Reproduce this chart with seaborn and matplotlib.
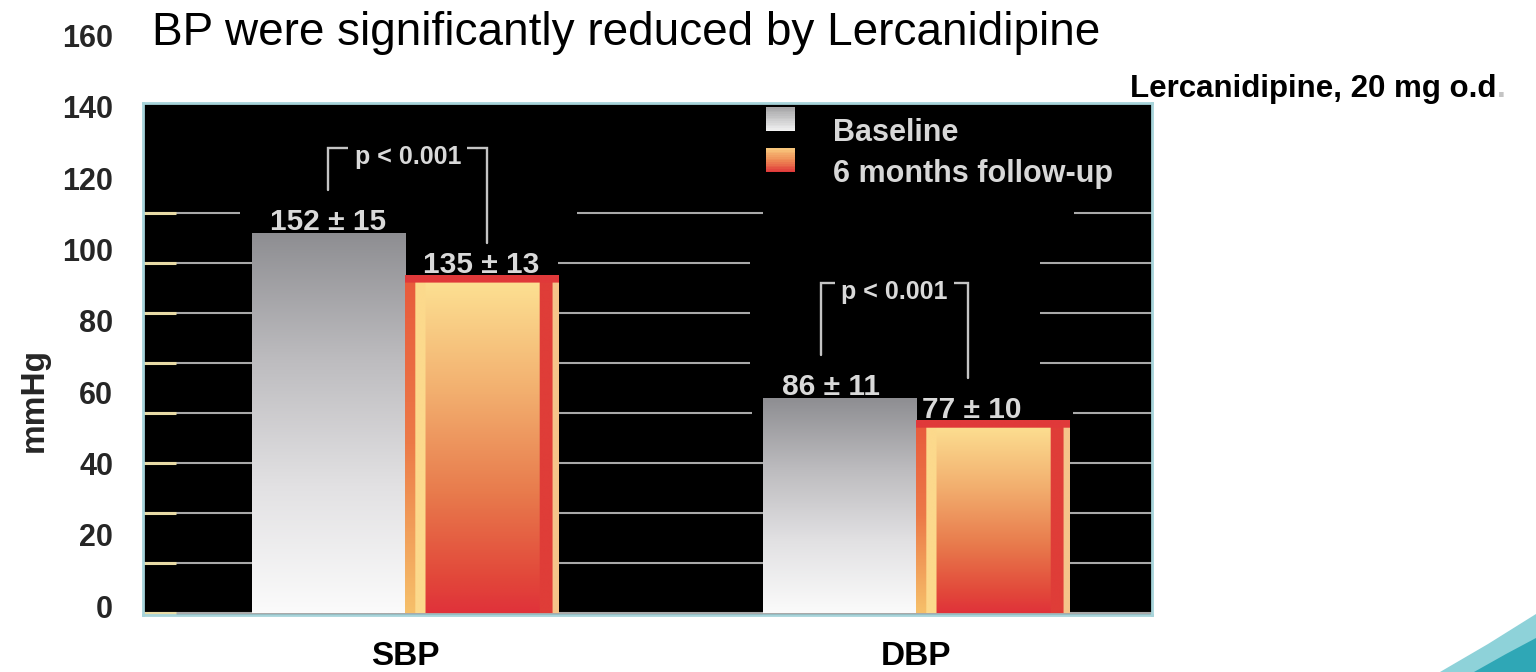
import numpy as np
import pandas as pd
import matplotlib
matplotlib.use("Agg")
import matplotlib.pyplot as plt
import seaborn as sns
from matplotlib.patches import Rectangle, Patch, Polygon
from matplotlib.legend_handler import HandlerBase
from matplotlib.colors import LinearSegmentedColormap, to_rgba

# ---- data -------------------------------------------------------------
measures = ["SBP", "SBP", "DBP", "DBP"]
timepoints = ["Baseline", "6 months follow-up", "Baseline", "6 months follow-up"]
mean_bp = [152, 135, 86, 77]
sd_bp = [15, 13, 11, 10]
measure_order = ["SBP", "DBP"]
timepoint_order = ["Baseline", "6 months follow-up"]
p_labels = ["p < 0.001", "p < 0.001"]
scale_labels = [0, 20, 40, 60, 80, 100, 120, 140, 160]
title = "BP were significantly reduced by Lercanidipine"
regimen = "Lercanidipine, 20 mg o.d"

df = pd.DataFrame({"measure": measures, "timepoint": timepoints,
                   "mmHg": mean_bp, "sd": sd_bp})

# ---- figure ----------------------------------------------------------
W, H = 1536, 672
sns.set_style("white")
plt.rcParams["font.family"] = ["Liberation Sans", "DejaVu Sans"]
fig = plt.figure(figsize=(W / 100, H / 100), dpi=100)


def fx(px):
    return px / W


def fy(py):
    return 1 - py / H


ax = fig.add_axes([fx(143), fy(614.5), 1009 / W, 511.5 / H])
ax.set_facecolor("black")

sns.barplot(data=df, x="measure", y="mmHg", hue="timepoint",
            order=measure_order, hue_order=timepoint_order,
            palette={"Baseline": "#b9b9bb", "6 months follow-up": "#e0393a"},
            width=0.6, gap=0, errorbar=None, legend=False, saturation=1,
            linewidth=0, ax=ax, zorder=1)

# grid and inner tick marks
ax.set_yticks(scale_labels)
ax.yaxis.grid(True, color="#a9a9a9", lw=1.5)
ax.xaxis.grid(False)
ax.set_axisbelow(True)
ax.tick_params(axis="y", direction="in", length=24, width=2.2,
               color="#e8dba6", left=True, labelleft=False)
ax.tick_params(axis="x", length=0, pad=19, labelsize=24, labelcolor="black")
for t in ax.get_xticklabels():
    t.set_fontweight("bold")
ax.set_xlabel("")
ax.set_ylabel("")
for s in ax.spines.values():
    s.set_visible(True)
    s.set_color("#a7d4da")
    s.set_linewidth(2)

# black panels that keep grid lines away from the annotations
masks = [  # (group, x0, x1, y0, y1) in data units
    (0, -0.323, 0.337, 156, 204),
    (0, 0.0, 0.3, 136, 156),
    (1, -0.32, 0.307, 78, 90),
    (1, -0.325, 0.243, 90, 150),
    (1, -0.30, 0.31, 150, 204),
]
for g, x0, x1, y0, y1 in masks:
    ax.add_patch(Rectangle((g + x0, y0), x1 - x0, y1 - y0, facecolor="black",
                           edgecolor="none", zorder=0.8))

# ---- gradient fills ---------------------------------------------------
base_cmap = LinearSegmentedColormap.from_list(
    "base", ["#fbfbfb", "#e2e1e3", "#bdbcbf", "#8e8e92"])  # bottom -> top
inner_cmap = LinearSegmentedColormap.from_list(
    "inner", [(0.0, "#e0323a"), (0.1, "#e2473a"), (0.35, "#e87a4c"),
              (0.65, "#f2ae6e"), (1.0, "#fde394")])
edge_cmap = LinearSegmentedColormap.from_list(
    "edge", ["#f6c06a", "#ec7a48", "#e85a3c"])


def baseline_image(nrows=256):
    v = np.linspace(0, 1, nrows)[:, None]
    return base_cmap(v)


def followup_image(height, nrows=400, ncols=120, rim=3.0):
    v = np.linspace(0, 1, nrows)
    u = np.linspace(0, 1, ncols)
    img = np.repeat(inner_cmap(v)[:, None, :], ncols, axis=1)
    left = edge_cmap(v)
    img[:, u < 0.06, :] = left[:, None, :]
    img[:, (u >= 0.06) & (u < 0.13), :] = to_rgba("#fcd98c")
    img[:, (u >= 0.88) & (u < 0.96), :] = to_rgba("#df3d38")
    img[:, u >= 0.96, :] = to_rgba("#f5c48a")
    img[v > 1 - rim / height, :, :] = to_rgba("#e0393a")
    return img


for ci, container in enumerate(ax.containers):
    for bar in container:
        x0, w, h = bar.get_x(), bar.get_width(), bar.get_height()
        img = baseline_image() if ci == 0 else followup_image(h)
        ax.imshow(img, extent=(x0, x0 + w, 0, h), origin="lower",
                  aspect="auto", interpolation="bilinear", zorder=2)

# ---- value labels and significance brackets ---------------------------
label_shift = {"SBP": (0.0, 0.0), "DBP": (-0.016, -0.041)}
bracket_shift = {"SBP": (0.0, 0.011), "DBP": (-0.036, -0.048)}
bracket_top = {"SBP": 186, "DBP": 132}
leg_gap = {"SBP": (17, 13), "DBP": (17, 17)}
txt_col = "#d9d9d9"

centers = {}
for ci, container in enumerate(ax.containers):
    for bi, bar in enumerate(container):
        m = measure_order[bi]
        tp = timepoint_order[ci]
        row = df[(df.measure == m) & (df.timepoint == tp)].iloc[0]
        xc = bar.get_x() + bar.get_width() / 2
        centers[(m, ci)] = (xc, bar.get_height())
        ax.text(xc + label_shift[m][ci], row.mmHg + 1,
                f"{row.mmHg} \u00b1 {row.sd}", ha="center", va="baseline",
                color=txt_col, fontsize=21.5, fontweight="bold", zorder=4)

for gi, m in enumerate(measure_order):
    xl, hl = centers[(m, 0)]
    xr, hr = centers[(m, 1)]
    xl += bracket_shift[m][0]
    xr += bracket_shift[m][1]
    top = bracket_top[m]
    ax.plot([xl, xl, xr, xr],
            [hl + leg_gap[m][0], top, top, hr + leg_gap[m][1]],
            color="#c4c4c4", lw=1.7, zorder=3, solid_joinstyle="miter")
    ax.text((xl + xr) / 2, top - 6.5, p_labels[gi], ha="center",
            va="baseline", color=txt_col, fontsize=18, fontweight="bold",
            zorder=4, bbox=dict(boxstyle="square,pad=0.25", fc="black",
                                ec="none"))

ax.set_xlim(-0.5127, 1.4618)
ax.set_ylim(-0.8, 203.8)


# ---- legend with gradient swatches -----------------------------------
class GradientSwatch(HandlerBase):
    def __init__(self, colors, lift=8.0):
        super().__init__()
        self.cmap = LinearSegmentedColormap.from_list("sw", colors)
        self.lift = lift

    def create_artists(self, legend, orig_handle, xdescent, ydescent,
                       width, height, fontsize, trans):
        n = 14
        arts = []
        for i in range(n):
            arts.append(Rectangle((-xdescent,
                                   -ydescent + self.lift + height * i / n),
                                  width, height / n * 1.05,
                                  facecolor=self.cmap(i / (n - 1)),
                                  edgecolor="none", transform=trans))
        return arts


h_base = Patch(label=timepoint_order[0])
h_follow = Patch(label=timepoint_order[1])
leg = ax.legend(handles=[h_base, h_follow],
                handler_map={h_base: GradientSwatch(["#f2f2f2", "#a6a6a8"]),
                             h_follow: GradientSwatch(["#e0393a", "#ee8a55",
                                                       "#f8c67c"])},
                loc="upper left", bbox_to_anchor=(fx(766), fy(118)),
                bbox_transform=fig.transFigure, frameon=False,
                prop={"weight": "bold", "size": 22}, labelcolor="#d8d8d8",
                handlelength=0.95, handleheight=0.85, handletextpad=1.25,
                labelspacing=0.36, borderpad=0, borderaxespad=0)
leg.set_zorder(5)

# ---- outer scale labels ----------------------------------------------
lab = fig.add_axes([fx(116), fy(606), 0.0005, (606 - 35.6) / H])
lab.set_ylim(0, 160)
lab.set_yticks(scale_labels)
lab.set_yticklabels([str(v) for v in scale_labels], fontsize=22,
                    fontweight="bold")
lab.tick_params(axis="y", length=0, pad=2)
lab.set_xticks([])
for s in lab.spines.values():
    s.set_visible(False)
lab.patch.set_visible(False)
lab.set_ylabel("mmHg", fontsize=24, fontweight="bold")
lab.yaxis.set_label_coords(fx(50), fy(400), transform=fig.transFigure)

# ---- headings -----------------------------------------------------------
fig.text(fx(152), fy(45), title, fontsize=33, ha="left", va="baseline",
         color="black")
t_reg = fig.text(fx(1130), fy(97), regimen, fontsize=22.5, fontweight="bold",
                 ha="left", va="baseline", color="black")
ax.annotate(".", xy=(1, 0), xycoords=t_reg, ha="left", va="bottom",
            fontsize=22.5, fontweight="bold", color="#c4c4c4",
            annotation_clip=False)

# ---- corner swoosh ------------------------------------------------------
def px_poly(pts):
    return [(fx(x), fy(y)) for x, y in pts]


fig.patches.append(Polygon(px_poly([(1440, 672), (1488, 644), (1536, 614),
                                    (1536, 672)]),
                           closed=True, facecolor="#8ed2d9", edgecolor="none",
                           transform=fig.transFigure, figure=fig))
fig.patches.append(Polygon(px_poly([(1474, 672), (1506, 654), (1536, 638),
                                    (1536, 672)]),
                           closed=True, facecolor="#2fa7b6", edgecolor="none",
                           transform=fig.transFigure, figure=fig))

fig.savefig("out.png", dpi=100, facecolor="white")
